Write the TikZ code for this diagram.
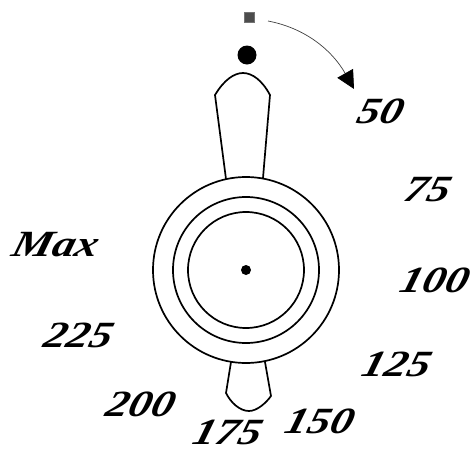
\documentclass[tikz,border=0pt]{standalone}
\usepackage{fontspec}
\setmainfont{Liberation Serif}
\usetikzlibrary{arrows.meta}
\tikzset{
    >=Triangle,
    ring/.style={circle, draw, line width=1.7pt, inner sep=0pt, outer sep=0pt},
    spot/.style={circle, fill=black, inner sep=0pt, outer sep=0pt},
    handle/.style={line width=1.7pt, line join=round},
    mark label/.style={font=\fontsize{37}{37}\selectfont\bfseries\itshape, xscale=1.22, xslant=0.22, inner sep=0pt}
}

\begin{document}
\begin{tikzpicture}[x=1pt, y=-1pt]
    \useasboundingbox (0,0) rectangle (472,448);

    \node[ring, minimum size=186pt] (outer) at (246,270) {};
    \node[ring, minimum size=146pt] (middle) at (246,270) {};
    \node[ring, minimum size=116pt] (inner) at (246,270) {};
    \node[spot, minimum size=10pt] (pivot) at (246,270) {};

    \draw[handle] (226,179) -- (215,95) .. controls (224,80) and (234,73) .. (243,73)
        .. controls (252,73) and (262,80) .. (270,95) -- (263,178);
    \draw[handle] (231,362) -- (226,393) .. controls (231,403) and (240,411) .. (249,411)
        .. controls (257,411) and (266,403) .. (271,396) -- (265,362);

    \node[spot, minimum size=19pt] (dot) at (247,55) {};
    \node[rectangle, draw=black!55, fill=black!70, line width=0.6pt, minimum size=10pt, inner sep=0pt] (square) at (249.5,17.5) {};

    \coordinate (start) at (268,21);
    \coordinate (stop) at (354,89);
    \draw[-{Triangle[length=18pt,width=18pt,color=black]}, line width=0.7pt, black!75] (start) .. controls (305,28) and (332,50) .. (stop);

    \node[mark label] (m50) at (381,111) {50};
    \node[mark label] (m75) at (428,190) {75};
    \node[mark label] (m100) at (435,280) {100};
    \node[mark label] (m125) at (397,364) {125};
    \node[mark label] (m150) at (320,421) {150};
    \node[mark label] (m175) at (228,432) {175};
    \node[mark label] (m200) at (141,404) {200};
    \node[mark label] (m225) at (79,335) {225};
    \node[mark label] (mmax) at (56,245) {Max};
\end{tikzpicture}
\end{document}
